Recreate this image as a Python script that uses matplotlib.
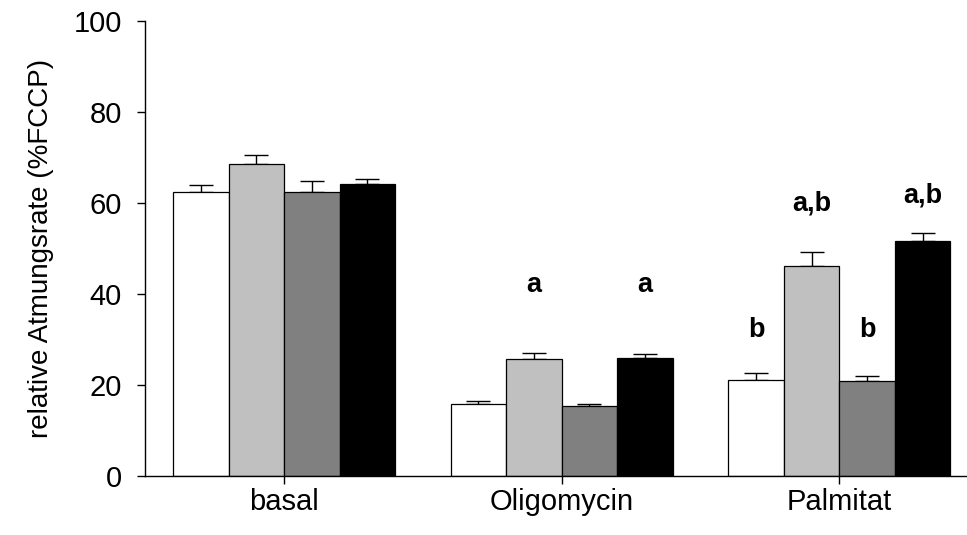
import numpy as np
import matplotlib
matplotlib.use('Agg')
import matplotlib.pyplot as plt

plt.rcParams['font.family'] = ['Liberation Sans', 'DejaVu Sans']

# Data
groups = ['basal', 'Oligomycin', 'Palmitat']
colors = ['white', '#c0c0c0', '#808080', 'black']
means = [
    [62.4, 68.6, 62.4, 64.2],   # basal
    [15.7, 25.6, 15.2, 25.9],   # Oligomycin
    [21.0, 46.1, 20.8, 51.6],   # Palmitat
]
errors = [
    [1.5, 1.9, 2.3, 1.0],
    [0.8, 1.4, 0.5, 0.8],
    [1.5, 3.1, 1.2, 1.8],
]
# significance letters: (group, bar, text, y)
letters = [
    (1, 1, 'a', 41.9),
    (1, 3, 'a', 41.9),
    (2, 0, 'b', 32.0),
    (2, 1, 'a,b', 59.9),
    (2, 2, 'b', 32.0),
    (2, 3, 'a,b', 61.7),
]

fig = plt.figure(figsize=(9.67, 5.35), dpi=100)
ax = fig.add_axes([0.1503, 0.1112, 0.8497, 0.8495])

width = 0.2
x = np.arange(len(groups))
for i in range(4):
    pos = x + (i - 1.5) * width
    vals = [m[i] for m in means]
    errs = [e[i] for e in errors]
    ax.bar(pos, vals, width, color=colors[i], edgecolor='black', linewidth=0.9, zorder=2)
    ax.errorbar(pos, vals, yerr=[np.zeros(len(errs)), errs], fmt='none',
                ecolor='black', elinewidth=1.0, capsize=8.5, capthick=1.0, zorder=1)

for g, b, txt, y in letters:
    ax.text(x[g] + (b - 1.5) * width, y, txt, ha='center', va='center',
            fontsize=19.5, fontweight='bold')

ax.set_xlim(-0.5, 2.46)
ax.set_ylim(0, 100)
ax.set_yticks([0, 20, 40, 60, 80, 100])
ax.set_xticks(x)
ax.set_xticklabels(groups)
ax.tick_params(axis='both', direction='out', length=6, width=1, labelsize=21)
ax.tick_params(axis='y', pad=11)
ax.tick_params(axis='x', pad=3)
ax.set_ylabel('relative Atmungsrate (%FCCP)', fontsize=20, labelpad=14)

ax.spines['top'].set_visible(False)
ax.spines['right'].set_visible(False)
ax.spines['left'].set_linewidth(1)
ax.spines['bottom'].set_linewidth(1)

fig.savefig('out.png', dpi=100)
